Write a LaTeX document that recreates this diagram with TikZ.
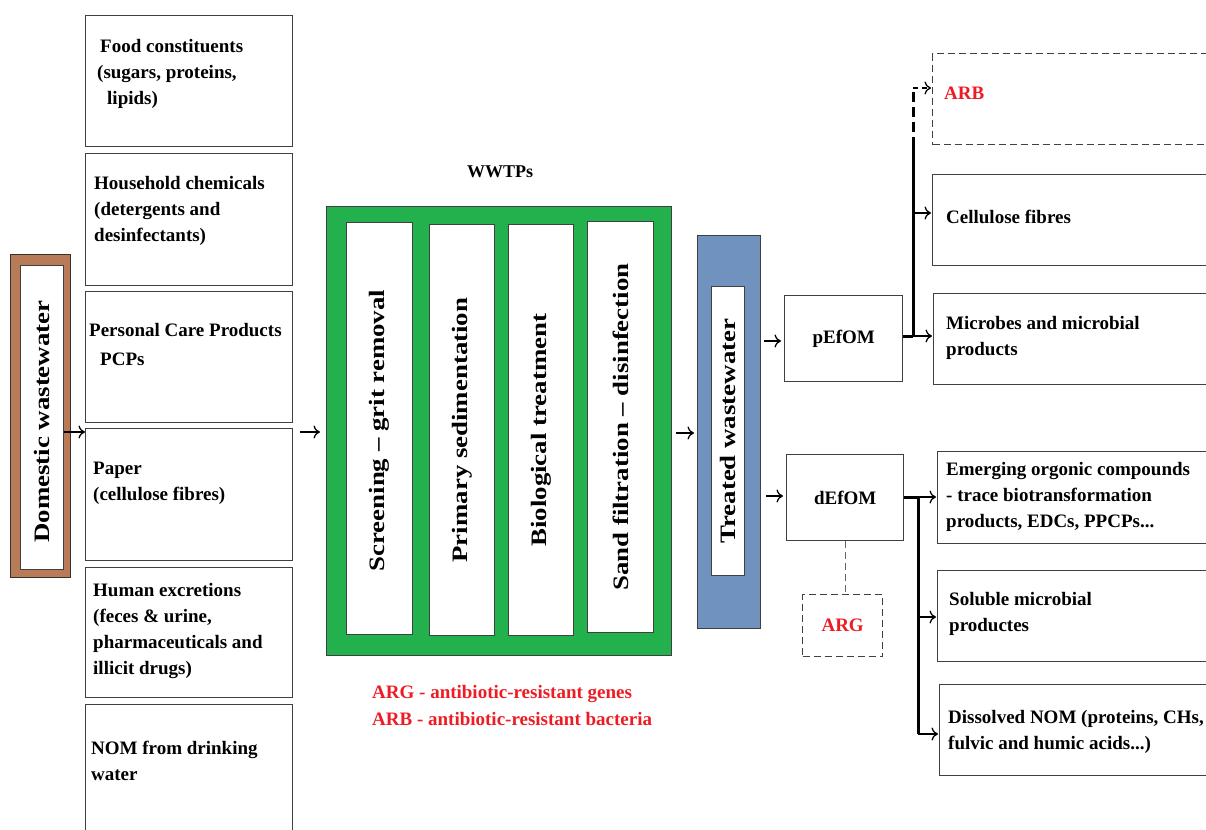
\documentclass[tikz,border=0pt]{standalone}
\usepackage{fontspec}
\setmainfont{Liberation Serif}
\usetikzlibrary{arrows.meta,calc}
\definecolor{dbrown}{RGB}{185,122,87}
\definecolor{dgreen}{RGB}{34,177,76}
\definecolor{dblue}{RGB}{112,146,190}
\definecolor{dred}{RGB}{237,28,36}
\definecolor{edge}{RGB}{64,64,64}
\newcommand{\rtext}[1]{\scalebox{1.22}[1]{#1}}
\tikzset{
  box/.style={draw=edge, line width=1.3pt, fill=white, inner sep=0pt, anchor=north west},
  dbox/.style={box, dashed, dash pattern=on 7pt off 4pt},
  lbl/.style={font=\bfseries\fontsize{19}{26}\selectfont, align=left, inner sep=0pt, anchor=north west, text=black},
  rot/.style={font=\bfseries\fontsize{22}{26}\selectfont, rotate=90, inner sep=0pt, text=black},
  arr/.style={-{To[length=6.5pt,width=13pt]}, line width=1.3pt},
  trunk/.style={line width=3pt},
}
\begin{document}
\begin{tikzpicture}[x=1pt,y=-1pt]
\useasboundingbox (0,0) rectangle (1206,829);
\begin{scope}
\clip (0,0) rectangle (1206,829);
% left source boxes
\node[box, minimum width=207pt, minimum height=131pt] (b1) at (85,15) {};
\node[box, minimum width=207pt, minimum height=132pt] (b2) at (85,153) {};
\node[box, minimum width=207pt, minimum height=131pt] (b3) at (85,291) {};
\node[box, minimum width=207pt, minimum height=132pt] (b4) at (85,428) {};
\node[box, minimum width=207pt, minimum height=130pt] (b5) at (85,567) {};
\node[box, minimum width=207pt, minimum height=140pt] (b6) at (85,704) {};
\node[lbl] (t1) at (97,39.5) {\hspace{3pt}Food constituents\\(sugars, proteins,\\\hspace{10pt}lipids)};
\node[lbl] (t2) at (94,176.5) {Household chemicals\\(detergents and\\desinfectants)};
\node[lbl] (t3) at (89,323.5) {Personal Care Products\\[3pt]\hspace{11pt}PCPs};
\node[lbl] (t4) at (93,461.5) {Paper\\(cellulose fibres)};
\node[lbl] (t5) at (93,583.5) {Human excretions\\(feces \& urine,\\pharmaceuticals and\\illicit drugs)};
\node[lbl] (t6) at (91,740.5) {NOM from drinking\\water};
% domestic wastewater
\node[draw=black!80, line width=1.3pt, fill=dbrown, minimum width=60pt, minimum height=323pt, anchor=north west, inner sep=0pt] (dom) at (10,254) {};
\node[box, minimum width=43pt, minimum height=304pt] (domin) at (20,265) {};
\node[rot] (domt) at ($(domin.center)+(0,4)$) {\rtext{Domestic wastewater}};
% WWTP
\node[font=\bfseries\fontsize{18}{22}\selectfont, inner sep=0pt] (wwtp) at (500,172) {WWTPs};
\node[draw=edge, line width=1.3pt, fill=dgreen, minimum width=345pt, minimum height=449pt, anchor=north west, inner sep=0pt] (green) at (326,206) {};
\node[box, minimum width=66pt, minimum height=412pt] (s1) at (346,222) {};
\node[box, minimum width=65pt, minimum height=411pt] (s2) at (429,224) {};
\node[box, minimum width=65pt, minimum height=411pt] (s3) at (508,224) {};
\node[box, minimum width=66pt, minimum height=411pt] (s4) at (587,221) {};
\node[rot] (s1t) at ($(s1.center)+(0,2)$) {\rtext{Screening -- grit removal}};
\node[rot] (s2t) at ($(s2.center)+(0,0)$) {\rtext{Primary sedimentation}};
\node[rot] (s3t) at ($(s3.center)+(0,0)$) {\rtext{Biological treatment}};
\node[rot] (s4t) at ($(s4.center)+(0,0)$) {\rtext{Sand filtration -- disinfection}};
% treated wastewater
\node[draw=edge, line width=1.3pt, fill=dblue, minimum width=63pt, minimum height=393pt, anchor=north west, inner sep=0pt] (blue) at (697,235) {};
\node[box, minimum width=33pt, minimum height=289pt] (bluein) at (711,286) {};
\node[rot] (bluet) at (bluein.center) {\rtext{Treated wastewater}};
% pEfOM / dEfOM
\node[box, minimum width=118pt, minimum height=86pt, font=\bfseries\fontsize{19}{26}\selectfont] (pef) at (784,295) {pEfOM};
\node[box, minimum width=117pt, minimum height=86pt, font=\bfseries\fontsize{19}{26}\selectfont] (def) at (786,454) {dEfOM};
\node[dbox, minimum width=80pt, minimum height=62pt, text=dred, font=\bfseries\fontsize{19}{26}\selectfont] (argb) at (802,594) {ARG};
% right boxes
\node[dbox, minimum width=290pt, minimum height=91pt] (arb) at (932,53) {};
\node[box, minimum width=290pt, minimum height=91pt] (cel) at (932,174) {};
\node[box, minimum width=290pt, minimum height=91pt] (mic) at (933,293) {};
\node[box, minimum width=290pt, minimum height=92pt] (emg) at (937,451) {};
\node[box, minimum width=290pt, minimum height=91pt] (sol) at (937,570) {};
\node[box, minimum width=290pt, minimum height=91pt] (dis) at (939,684) {};
\node[lbl, text=dred] (arbt) at (944,86.5) {ARB};
\node[lbl] (celt) at (946,209.5) {Cellulose fibres};
\node[lbl] (mict) at (946,316.5) {Microbes and microbial\\products};
\node[lbl] (emgt) at (946,462.5) {Emerging orgonic compounds\\- trace biotransformation\\products, EDCs, PPCPs...};
\node[lbl] (solt) at (949,592.5) {Soluble microbial\\productes};
\node[lbl] (dist) at (948,710.5) {Dissolved NOM (proteins, CHs,\\fulvic and humic acids...)};
% legend
\node[lbl, text=dred, font=\bfseries\fontsize{19}{27}\selectfont] (leg) at (372,685.5) {ARG - antibiotic-resistant genes\\ARB - antibiotic-resistant bacteria};
% connectors
\coordinate (ya) at (0,432);
\coordinate (yb) at (0,433);
\coordinate (yp) at (0,341);
\coordinate (yd) at (0,496);
\draw[arr] (domin.east |- ya) -- (b4.west |- ya);
\coordinate (src) at (300,432);
\draw[arr, shorten >=6pt] (src) -- (src -| green.west);
\draw[arr, shorten <=4pt, shorten >=3pt] (green.east |- yb) -- (blue.west |- yb);
\draw[arr, shorten <=3pt, shorten >=3pt] (blue.east |- yp) -- (pef.west |- yp);
\draw[arr, shorten <=5pt, shorten >=3pt] (blue.east |- yd) -- (def.west |- yd);
% pEfOM branch
\coordinate (jp) at (913,336);
\coordinate (jpm) at (913,147);
\coordinate (jpt) at (913,88);
\coordinate (yc) at (0,213);
\draw[trunk] (pef.east |- jp) -- (jp);
\draw[trunk] (jp) -- (jpm);
\draw[trunk, dash pattern=on 10pt off 5pt] (jpm) -- (jpt);
\draw[arr, shorten >=1pt] (jp) -- (mic.west |- jp);
\draw[arr, shorten >=1pt] (jp |- yc) -- (cel.west |- yc);
\draw[arr, shorten >=1pt, dash pattern=on 5pt off 4pt] (jpt) -- (arb.west |- jpt);
% dEfOM branch
\coordinate (jd) at (918,497);
\coordinate (jds) at (918,617);
\coordinate (jdb) at (918,734);
\draw[trunk] (def.east |- jd) -- (jd);
\draw[trunk] (jd) -- (jdb);
\draw[arr, shorten >=1pt] (jd) -- (emg.west |- jd);
\draw[arr, shorten >=1pt] (jds) -- (sol.west |- jds);
\draw[arr, shorten >=1pt] (jdb) -- (dis.west |- jdb);
\draw[edge!80, line width=1.3pt, dash pattern=on 7pt off 4pt] (def.south) -- (def.south |- argb.north);
\end{scope}
\end{tikzpicture}
\end{document}
